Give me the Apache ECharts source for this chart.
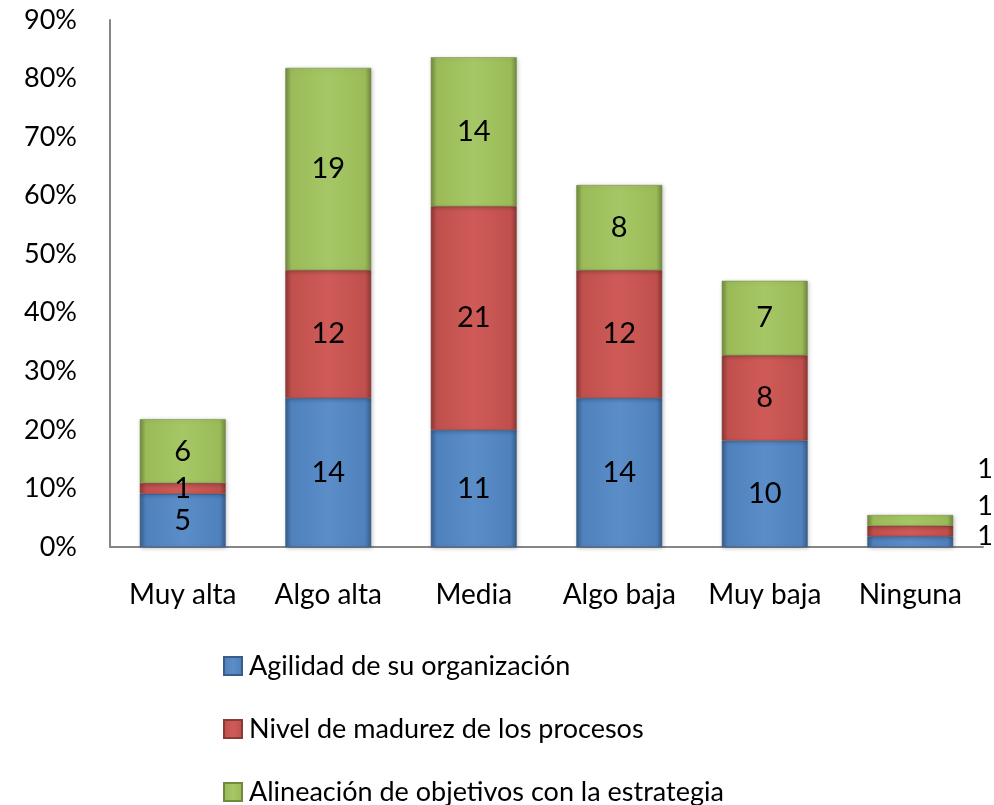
<!DOCTYPE html>
<html>
<head>
<meta charset="utf-8">
<script src="https://cdn.jsdelivr.net/npm/echarts@6/dist/echarts.min.js"></script>
<style>
  html, body { margin: 0; padding: 0; background: #fff; }
  #chart { width: 994px; height: 805px; }
</style>
</head>
<body>
<div id="chart"></div>
<script>
// Responses per level (counts); bars are drawn as share of all respondents
const categories = ['Muy alta', 'Algo alta', 'Media', 'Algo baja', 'Muy baja', 'Ninguna'];
const agilidad   = [5, 14, 11, 14, 10, 1];
const madurez    = [1, 12, 21, 12, 8, 1];
const alineacion = [6, 19, 14, 8, 7, 1];
const totalRespondents = 55;
const seriesNames = [
  'Agilidad de su organización',
  'Nivel de madurez de los procesos',
  'Alineación de objetivos con la estrategia'
];
const yTicks = [0, 10, 20, 30, 40, 50, 60, 70, 80, 90];

const FONT = 'Lato, "Open Sans", sans-serif';

function bevel(dark, base, light) {
  return new echarts.graphic.LinearGradient(0, 0, 1, 0, [
    { offset: 0, color: dark },
    { offset: 0.07, color: base },
    { offset: 0.5, color: light },
    { offset: 0.93, color: base },
    { offset: 1, color: dark }
  ]);
}

const palettes = [
  { dark: '#385d8a', base: '#4f81bd', light: '#5b8dc9' },
  { dark: '#8c3836', base: '#c0504d', light: '#cf5b58' },
  { dark: '#71893f', base: '#9bbb59', light: '#a6c765' }
];

// Labels for the thin last column sit to the right of the bar, stacked upward
const sideOffsets = [-5, -25, -51];

function buildSeries(values, idx) {
  const p = palettes[idx];
  return {
    name: seriesNames[idx],
    type: 'bar',
    stack: 'total',
    barWidth: '59%',
    itemStyle: {
      color: bevel(p.dark, p.base, p.light),
      borderColor: p.dark,
      borderWidth: 0.5,
      shadowColor: 'rgba(0,0,0,0.25)',
      shadowBlur: 4,
      shadowOffsetX: 1,
      shadowOffsetY: 1
    },
    label: {
      show: true,
      position: 'inside',
      color: '#000',
      fontFamily: FONT,
      fontSize: 29,
      formatter: (prm) => values[prm.dataIndex]
    },
    data: values.map((v, i) => {
      const item = { value: v / totalRespondents * 100 };
      if (i === values.length - 1) {
        item.label = {
          position: 'right',
          distance: 24,
          fontSize: 27,
          offset: [0, sideOffsets[idx]]
        };
      }
      return item;
    })
  };
}

const chart = echarts.init(document.getElementById('chart'), null, { renderer: 'canvas' });
chart.setOption({
  animation: false,
  backgroundColor: '#fff',
  grid: { left: 110, right: 11, top: 20, bottom: 258, containLabel: false },
  legend: {
    orient: 'vertical',
    left: 218,
    top: 646,
    height: 159,
    itemWidth: 18,
    itemHeight: 18,
    itemGap: 33,
    icon: 'rect',
    textStyle: { fontFamily: FONT, fontSize: 27, lineHeight: 30, color: '#000', padding: [0, 0, 0, 2] },
    data: seriesNames
  },
  xAxis: {
    type: 'category',
    data: categories,
    axisLine: { lineStyle: { color: '#868686', width: 2 } },
    axisTick: { show: false },
    axisLabel: { interval: 0, fontFamily: FONT, fontSize: 28, color: '#000', margin: 34 }
  },
  yAxis: {
    type: 'value',
    min: yTicks[0],
    max: yTicks[yTicks.length - 1],
    interval: 10,
    axisLine: { show: true, lineStyle: { color: '#868686', width: 2 } },
    axisTick: { show: false },
    splitLine: { show: false },
    axisLabel: { fontFamily: FONT, fontSize: 27, color: '#000', margin: 33, formatter: '{value}%' }
  },
  series: [
    buildSeries(agilidad, 0),
    buildSeries(madurez, 1),
    buildSeries(alineacion, 2)
  ]
});
</script>
</body>
</html>
